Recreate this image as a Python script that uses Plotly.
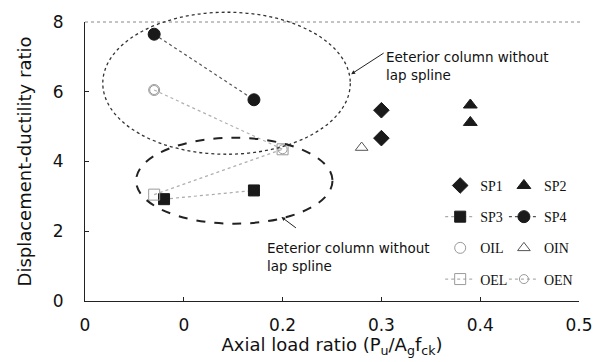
import plotly.graph_objects as go

# ---- data ----
sp1_x = [0.30, 0.30]
sp1_y = [5.47, 4.67]
sp2_x = [0.39, 0.39]
sp2_y = [5.62, 5.12]
sp3_x = [0.08, 0.171]
sp3_y = [2.92, 3.17]
sp4_x = [0.07, 0.171]
sp4_y = [7.65, 5.77]
oil_x = [0.07]
oil_y = [6.05]
oin_x = [0.28]
oin_y = [4.40]
oel_x = [0.07, 0.20]
oel_y = [3.05, 4.35]
oen_x = [0.07, 0.20]
oen_y = [6.05, 4.35]

x_ticks = [0, 0.1, 0.2, 0.3, 0.4, 0.5]
x_labels = ["0", "0", "0.2", "0.3", "0.4", "0.5"]
y_ticks = [0, 2, 4, 6, 8]

DARK = "#1a1a1a"
GRAY = "#9a9a9a"

fig = go.Figure()

def add(name, x, y, symbol, mode, legend, color=DARK, line_color=None, dash="dot", size=11, lw=1.2):
    fig.add_trace(go.Scatter(
        x=x, y=y, name=name, mode=mode, legend=legend, legendgroup=name,
        marker=dict(symbol=symbol, size=size, color=color,
                    line=dict(color=color if "open" not in symbol else GRAY, width=1)),
        line=dict(color=line_color or GRAY, dash=dash, width=lw),
        cliponaxis=False,
    ))

add("SP1", sp1_x, sp1_y, "diamond", "markers", "legend", size=12)
add("SP3", sp3_x, sp3_y, "square", "lines+markers", "legend", line_color="#aaaaaa")
add("OIL", oil_x, oil_y, "circle-open", "markers", "legend", color=GRAY)
add("OEL", oel_x, oel_y, "square-open", "lines+markers", "legend", color=GRAY, line_color="#b0b0b0")
add("SP2", sp2_x, sp2_y, "triangle-up", "markers", "legend2", size=12)
add("SP4", sp4_x, sp4_y, "circle", "lines+markers", "legend2", line_color="#555555", size=12)
add("OIN", oin_x, oin_y, "triangle-up-open", "markers", "legend2", color="#555555")
add("OEN", oen_x, oen_y, "circle-open", "lines+markers", "legend2", color=GRAY, line_color="#b0b0b0", size=9)

tick_font = dict(family="DejaVu Sans, sans-serif", size=17, color="#111")
title_font = dict(family="DejaVu Sans, sans-serif", size=18, color="#111")
leg_font = dict(family="Liberation Serif, Times New Roman, serif", size=14, color="#111")

fig.update_layout(
    width=605, height=362,
    margin=dict(l=85, r=17, t=17, b=56),
    paper_bgcolor="white", plot_bgcolor="white",
    xaxis=dict(range=[0, 0.5], tickvals=x_ticks, ticktext=x_labels,
               ticks="inside", ticklen=4, tickcolor="#222", showgrid=False, zeroline=False,
               showline=True, linecolor="#222", linewidth=1.2, tickfont=tick_font,
               ticklabelstandoff=8,
               title=dict(text="Axial load ratio (P<sub>u</sub>/A<sub>g</sub>f<sub>ck</sub>)",
                          font=title_font, standoff=3)),
    yaxis=dict(range=[0, 8], tickvals=y_ticks, ticks="inside", ticklen=4, tickcolor="#222",
               showgrid=False, zeroline=False, showline=True, linecolor="#222", linewidth=1.2,
               tickfont=tick_font, ticklabelstandoff=17,
               title=dict(text="Displacement-ductility ratio", font=title_font, standoff=16)),
    legend=dict(x=0.719, y=0.47, xanchor="left", yanchor="top", bgcolor="rgba(0,0,0,0)",
                font=leg_font, tracegroupgap=10, itemwidth=30),
    legend2=dict(x=0.848, y=0.47, xanchor="left", yanchor="top", bgcolor="rgba(0,0,0,0)",
                 font=leg_font, tracegroupgap=10, itemwidth=30),
    showlegend=True,
)

# top dotted frame line
fig.add_shape(type="line", xref="paper", yref="paper", x0=0, x1=1.004, y0=1, y1=1,
              line=dict(color="#888", width=1, dash="dot"))
# ellipses (annotation marks)
fig.add_shape(type="circle", xref="paper", yref="paper", x0=0.036, x1=0.537, y0=0.526, y1=1.035,
              line=dict(color="#333", width=1.3, dash="dot"))
fig.add_shape(type="circle", xref="paper", yref="paper", x0=0.1034, x1=0.501, y0=0.277, y1=0.585,
              line=dict(color="#222", width=2, dash="dash"))

ann_font = dict(family="DejaVu Sans, sans-serif", size=13.5, color="#111")
fig.add_annotation(xref="paper", yref="paper", x=(389 - 85) / 503, y=(306 - 63) / 289,
                   xanchor="left", yanchor="middle", align="left", showarrow=False,
                   text="Eeterior column without<br>lap spline", font=ann_font)
fig.add_annotation(xref="paper", yref="paper", x=(356 - 85) / 503, y=(306 - 71) / 289,
                   ax=34, ay=-22, showarrow=True,
                   arrowhead=2, arrowsize=0.8, arrowwidth=1, arrowcolor="#222", text="")
fig.add_annotation(xref="paper", yref="paper", x=(268 - 85) / 503, y=(306 - 260) / 289,
                   xanchor="left", yanchor="middle", align="left", showarrow=False,
                   text="Eeterior column without<br>lap spline", font=ann_font)
fig.add_annotation(xref="paper", yref="paper", x=(285 - 85) / 503, y=(306 - 219) / 289,
                   ax=16, ay=12, showarrow=True,
                   arrowhead=2, arrowsize=0.8, arrowwidth=1, arrowcolor="#222", text="")

fig.write_html("out.html")
